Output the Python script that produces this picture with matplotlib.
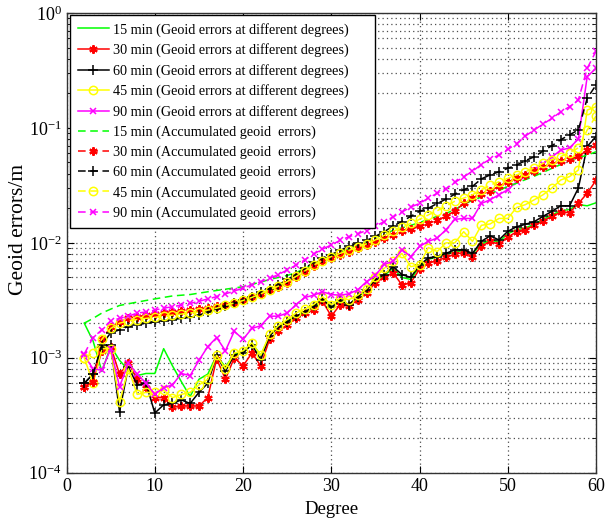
import numpy as np
import matplotlib
matplotlib.use("Agg")
import matplotlib.pyplot as plt
from matplotlib.ticker import LogLocator, FixedLocator

plt.rcParams['font.family'] = ['Liberation Serif', 'DejaVu Serif']
plt.rcParams['mathtext.fontset'] = 'custom'
plt.rcParams['mathtext.rm'] = 'Liberation Serif'

# spherical harmonic degrees 2..60
degree = np.arange(2, 61)

# geoid errors per degree, in mm
err_15 = [2.0, 1.4, 0.76, 1.26, 0.95, 0.78, 0.70, 0.73, 0.73, 1.2,
          0.85, 0.62, 0.46, 0.65, 0.72, 1.05, 0.83, 1.08, 1.1, 1.35,
          1.05, 1.55, 1.85, 2.1, 2.3, 2.5, 2.75, 3.2, 2.75, 3.1,
          2.9, 3.35, 3.9, 4.7, 5.2, 6.0, 5.0, 4.8, 6.2, 7.2,
          7.5, 8.0, 8.3, 8.6, 8.0, 9.8, 10.5, 10.2, 12.0, 13.0,
          13.5, 14.5, 16.0, 17.5, 19.0, 19.5, 21.5, 21.0, 22.3]
err_30 = [0.56, 0.62, 1.15, 1.25, 0.72, 0.9, 0.65, 0.55, 0.45, 0.45,
          0.37, 0.38, 0.38, 0.38, 0.45, 0.98, 0.65, 1.0, 0.85, 1.1,
          0.85, 1.45, 1.7, 1.93, 2.2, 2.45, 2.6, 3.1, 2.3, 2.9,
          2.8, 3.2, 3.65, 4.5, 5.0, 5.5, 4.3, 4.5, 5.9, 6.7,
          7.0, 7.5, 8.0, 8.2, 7.6, 9.3, 10.3, 9.7, 11.2, 12.5,
          13.0, 14.2, 15.5, 17.0, 18.5, 18.3, 22.0, 27.0, 35.0]
err_60 = [0.6, 0.72, 1.25, 1.28, 0.34, 0.83, 0.58, 0.6, 0.33, 0.39,
          0.4, 0.43, 0.4, 0.5, 0.6, 1.05, 0.76, 1.06, 1.1, 1.3,
          0.96, 1.55, 1.85, 2.05, 2.3, 2.5, 2.8, 3.25, 2.75, 3.15,
          2.9, 3.4, 3.9, 4.8, 5.3, 6.2, 5.3, 5.0, 6.4, 7.4,
          7.6, 8.1, 8.7, 8.7, 8.1, 10.3, 11.5, 10.6, 12.6, 13.8,
          14.5, 15.3, 17.0, 18.8, 21.0, 21.0, 30.0, 69.0, 84.0]
err_45 = [1.0, 0.6, 1.2, 1.2, 0.41, 0.8, 0.48, 0.5, 0.5, 0.52,
          0.45, 0.48, 0.5, 0.58, 0.65, 1.05, 0.8, 1.1, 1.15, 1.35,
          1.05, 1.6, 1.9, 2.15, 2.45, 2.65, 2.9, 3.4, 2.9, 3.3,
          3.2, 3.5, 4.0, 5.0, 6.0, 6.9, 8.1, 6.2, 6.45, 9.1,
          8.4, 10.0, 10.0, 12.5, 10.3, 14.2, 14.6, 16.3, 16.3, 20.3,
          21.5, 23.7, 26.2, 30.0, 35.2, 37.7, 43.0, 143.0, 153.0]
err_90 = [1.05, 0.8, 0.78, 1.2, 0.56, 0.9, 0.72, 0.6, 0.48, 0.55,
          0.58, 0.73, 0.7, 0.95, 1.25, 1.5, 1.15, 1.7, 1.45, 1.8,
          1.9, 2.3, 2.3, 2.45, 2.9, 3.35, 3.5, 3.75, 3.55, 3.5,
          3.6, 3.9, 4.6, 5.2, 6.5, 6.9, 8.7, 7.6, 9.3, 10.3,
          11.0, 13.0, 16.0, 16.3, 16.3, 22.0, 23.7, 26.2, 29.0, 34.0,
          38.0, 43.0, 49.0, 56.0, 64.0, 67.0, 80.0, 280.0, 330.0]

# accumulated geoid errors, in mm
acc_15 = [2.0, 2.2, 2.45, 2.65, 2.85, 2.95, 3.05, 3.15, 3.25, 3.35,
          3.45, 3.5, 3.55, 3.65, 3.75, 3.85, 3.95, 4.05, 4.15, 4.35,
          4.55, 4.8, 5.0, 5.2, 5.5, 6.0, 6.6, 7.2, 7.7, 8.2,
          8.8, 9.5, 10.3, 11.2, 12.0, 12.8, 13.5, 14.2, 15.0, 16.0,
          17.0, 18.0, 19.5, 21.5, 23.5, 25.0, 27.0, 28.5, 31.0, 33.0,
          35.5, 38.0, 41.0, 44.5, 48.0, 52.0, 55.0, 58.0, 62.0]
acc_30 = [0.56, 0.62, 1.45, 1.85, 2.05, 2.2, 2.28, 2.35, 2.4, 2.45,
          2.5, 2.55, 2.6, 2.65, 2.72, 2.8, 2.9, 3.0, 3.15, 3.35,
          3.6, 3.85, 4.1, 4.5, 5.0, 5.6, 6.3, 6.9, 7.4, 7.9,
          8.4, 9.0, 9.5, 10.2, 11.0, 11.8, 12.6, 13.3, 14.0, 14.8,
          15.8, 17.0, 19.0, 22.0, 24.5, 26.5, 28.5, 31.0, 34.0, 36.5,
          39.0, 42.0, 45.5, 48.5, 51.5, 54.0, 56.5, 64.0, 71.0]
acc_60 = [0.6, 0.72, 1.3, 1.65, 1.75, 1.87, 1.93, 2.0, 2.05, 2.1,
          2.15, 2.2, 2.25, 2.35, 2.5, 2.65, 2.8, 3.0, 3.15, 3.4,
          3.7, 4.0, 4.3, 4.8, 5.3, 6.0, 6.8, 7.4, 7.9, 8.6,
          9.3, 10.0, 10.5, 11.4, 12.5, 14.0, 15.3, 17.0, 18.8, 20.0,
          22.0, 24.0, 26.5, 29.0, 31.0, 36.0, 39.0, 41.5, 44.5, 47.5,
          52.0, 56.0, 63.0, 70.0, 79.0, 87.0, 96.0, 181.0, 236.0]
acc_45 = [1.0, 1.1, 1.45, 1.8, 2.0, 2.1, 2.15, 2.2, 2.25, 2.3,
          2.35, 2.4, 2.45, 2.5, 2.6, 2.7, 2.85, 3.0, 3.15, 3.35,
          3.6, 3.9, 4.2, 4.6, 5.1, 5.7, 6.4, 7.0, 7.6, 8.1,
          8.6, 9.2, 9.8, 10.6, 11.6, 12.6, 13.6, 14.8, 16.0, 17.5,
          19.0, 21.0, 23.0, 24.5, 26.2, 29.0, 31.8, 34.0, 36.4, 39.0,
          41.5, 45.0, 49.2, 53.0, 56.3, 61.0, 67.0, 96.0, 127.0]
acc_90 = [1.08, 1.5, 1.75, 2.1, 2.2, 2.3, 2.45, 2.5, 2.6, 2.7,
          2.78, 2.87, 2.97, 3.1, 3.25, 3.4, 3.6, 3.8, 4.05, 4.3,
          4.6, 4.9, 5.3, 5.8, 6.4, 7.1, 8.0, 8.8, 9.6, 10.5,
          11.3, 12.0, 12.8, 14.0, 15.3, 16.8, 18.5, 20.5, 22.0, 24.5,
          27.0, 29.5, 33.5, 37.5, 42.0, 48.0, 53.5, 58.0, 65.0, 73.0,
          85.0, 96.0, 108.0, 121.0, 138.0, 153.0, 175.0, 330.0, 465.0]

green = (0, 1, 0)
red = (1, 0, 0)
yellow = (1, 1, 0)
magenta = (1, 0, 1)
asterisk = (6, 2, 0)
dash = (0, (5, 3))
grid_dots = (0, (1, 2.5))

fig = plt.figure(figsize=(6.11, 5.23), dpi=100)
ax = fig.add_axes([0.109, 0.0962, 0.8665, 0.879])

mm = 1e-3
lab_deg = 'min (Geoid errors at different degrees)'
lab_acc = 'min (Accumulated geoid  errors)'

ax.plot(degree, np.array(err_15) * mm, '-', color=green, lw=1.1,
        label='15 ' + lab_deg)
ax.plot(degree, np.array(err_30) * mm, '-', color=red, lw=1.1,
        marker=asterisk, ms=6, mew=1.5, label='30 ' + lab_deg)
ax.plot(degree, np.array(err_60) * mm, '-', color='k', lw=1.1,
        marker='+', ms=7, mew=1.1, label='60 ' + lab_deg)
ax.plot(degree, np.array(err_45) * mm, '-', color=yellow, lw=1.1,
        marker='o', ms=6, mfc='none', mew=1.1, label='45 ' + lab_deg)
ax.plot(degree, np.array(err_90) * mm, '-', color=magenta, lw=1.1,
        marker='x', ms=5, mew=1.1, label='90 ' + lab_deg)

ax.plot(degree, np.array(acc_15) * mm, ls=dash, color=green, lw=1.1,
        label='15 ' + lab_acc)
ax.plot(degree, np.array(acc_30) * mm, ls=dash, color=red, lw=1.1,
        marker=asterisk, ms=6, mew=1.5, label='30 ' + lab_acc)
ax.plot(degree, np.array(acc_60) * mm, ls=dash, color='k', lw=1.1,
        marker='+', ms=7, mew=1.1, label='60 ' + lab_acc)
ax.plot(degree, np.array(acc_45) * mm, ls=dash, color=yellow, lw=1.1,
        marker='o', ms=6, mfc='none', mew=1.1, label='45 ' + lab_acc)
ax.plot(degree, np.array(acc_90) * mm, ls=dash, color=magenta, lw=1.1,
        marker='x', ms=5, mew=1.1, label='90 ' + lab_acc)

ax.set_yscale('log')
ax.set_xlim(0, 60)
ax.set_ylim(1e-4, 1e0)
ax.xaxis.set_major_locator(FixedLocator([0, 10, 20, 30, 40, 50, 60]))
ax.yaxis.set_major_locator(LogLocator(base=10, numticks=10))
ax.yaxis.set_minor_locator(LogLocator(base=10, subs=np.arange(2, 10), numticks=10))

ax.grid(True, which='major', ls=grid_dots, color='0.3', lw=0.9)
ax.yaxis.grid(True, which='minor', ls=grid_dots, color='0.3', lw=0.9)

ax.tick_params(which='both', direction='in', top=True, right=True,
               labelsize=13, colors='k')
ax.tick_params(which='major', length=5)
ax.tick_params(which='minor', length=3)
for s in ax.spines.values():
    s.set_linewidth(1.0)
    s.set_color('0.2')

ax.set_xlabel('Degree', fontsize=13.5, labelpad=5)
ax.set_ylabel('Geoid errors/m', fontsize=15.5)
ax.yaxis.set_label_coords(-0.073, 0.53)

# legend box stretched to a fixed width, as in the MATLAB figure
leg = ax.legend(loc='upper left', bbox_to_anchor=(0.006, 0.996, 0.577, 0),
                mode='expand', fontsize=10.2, frameon=True, fancybox=False,
                edgecolor='k', framealpha=1, borderaxespad=0,
                handlelength=2.2, handletextpad=0.3, labelspacing=0.47,
                borderpad=0.55)
leg.get_frame().set_linewidth(1.0)

fig.savefig('out.png', dpi=100)
